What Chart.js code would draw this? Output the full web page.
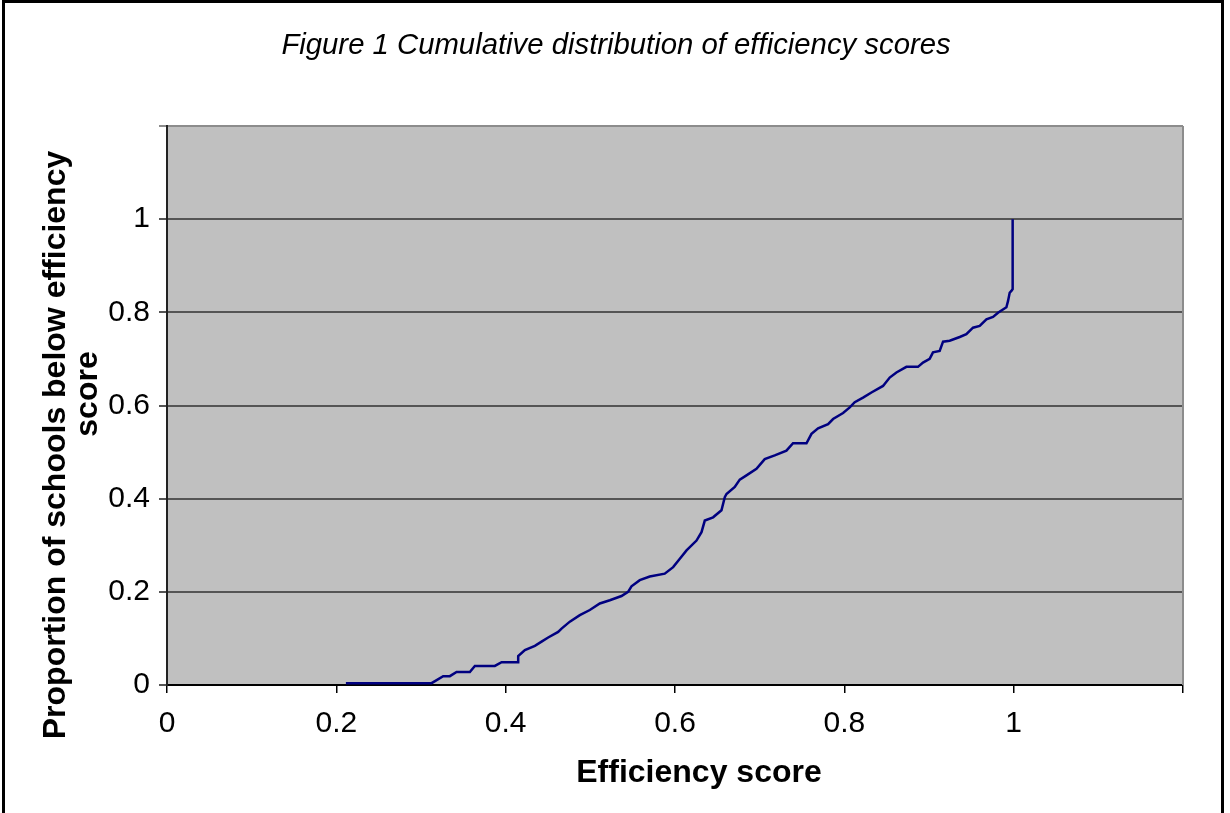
<!DOCTYPE html>
<html>
<head>
<meta charset="utf-8">
<script src="https://cdn.jsdelivr.net/npm/chart.js@4"></script>
<style>
html,body{margin:0;padding:0;background:#fff;}
#wrap{position:absolute;left:0;top:0;width:1230px;height:813px;}
</style>
</head>
<body>
<div id="wrap"><canvas id="c" width="1230" height="813"></canvas></div>
<script>
const chartTitle = "Figure 1 Cumulative distribution of efficiency scores";
const xAxisTitle = "Efficiency score";
const yAxisTitle = ["Proportion of schools below efficiency", "score"];
const xTickValues = [0, 0.2, 0.4, 0.6, 0.8, 1, 1.2];
const xTickLabels = ["0", "0.2", "0.4", "0.6", "0.8", "1", ""];
const yTickLabels = ["0", "0.2", "0.4", "0.6", "0.8", "1", ""];

const efficiencyScores = [
  0.2113, 0.3125, 0.3262, 0.3341, 0.3420, 0.3577, 0.3636, 0.3872, 0.3952, 0.4148,
  0.4148, 0.4227, 0.4345, 0.4424, 0.4502, 0.4620, 0.4660, 0.4758, 0.4876, 0.4994,
  0.5112, 0.5230, 0.5368, 0.5446, 0.5486, 0.5584, 0.5702, 0.5879, 0.5978, 0.6057,
  0.6136, 0.6254, 0.6313, 0.6352, 0.6450, 0.6549, 0.6588, 0.6608, 0.6706, 0.6765,
  0.6844, 0.6962, 0.7060, 0.7178, 0.7316, 0.7394, 0.7553, 0.7612, 0.7690, 0.7808,
  0.7867, 0.7985, 0.8064, 0.8123, 0.8221, 0.8320, 0.8457, 0.8536, 0.8615, 0.8733,
  0.8870, 0.8929, 0.9008, 0.9047, 0.9126, 0.9166, 0.9244, 0.9363, 0.9441, 0.9520,
  0.9599, 0.9678, 0.9756, 0.9815, 0.9914, 0.9933, 0.9953, 0.9973, 0.9988, 0.9988
];
const proportionBelow = [
  0.004, 0.004, 0.019, 0.019, 0.028, 0.028, 0.041, 0.041, 0.049, 0.049,
  0.062, 0.075, 0.084, 0.093, 0.102, 0.114, 0.121, 0.136, 0.150, 0.161,
  0.175, 0.182, 0.191, 0.200, 0.212, 0.225, 0.233, 0.239, 0.253, 0.271,
  0.289, 0.310, 0.328, 0.353, 0.360, 0.375, 0.403, 0.410, 0.425, 0.441,
  0.450, 0.464, 0.485, 0.493, 0.503, 0.519, 0.519, 0.539, 0.551, 0.560,
  0.571, 0.584, 0.596, 0.607, 0.617, 0.628, 0.642, 0.660, 0.671, 0.683,
  0.683, 0.692, 0.700, 0.714, 0.717, 0.737, 0.739, 0.747, 0.753, 0.767,
  0.771, 0.785, 0.790, 0.799, 0.811, 0.824, 0.842, 0.846, 0.850, 1.000
];

const points = efficiencyScores.map((x, i) => ({x: x, y: proportionBelow[i]}));
const FONT = "'Liberation Sans', Arial, sans-serif";

function labelFor(values, labels, v) {
  for (let i = 0; i < values.length; i++) {
    if (Math.abs(values[i] - v) < 1e-6) return labels[i];
  }
  return '';
}

const decorPlugin = {
  id: 'decor',
  beforeDraw(chart) {
    const ctx = chart.ctx, a = chart.chartArea;
    ctx.save();
    ctx.fillStyle = '#fff';
    ctx.fillRect(0, 0, chart.width, chart.height);
    ctx.fillStyle = '#c0c0c0';
    ctx.fillRect(a.left, a.top, a.right - a.left, a.bottom - a.top);
    ctx.restore();
  },
  afterDraw(chart) {
    const ctx = chart.ctx, a = chart.chartArea;
    ctx.save();
    ctx.strokeStyle = '#8c8c8c';
    ctx.lineWidth = 2;
    ctx.beginPath();
    ctx.moveTo(a.right, a.top);
    ctx.lineTo(a.right, a.bottom);
    ctx.stroke();
    ctx.strokeStyle = '#000';
    ctx.lineWidth = 3;
    ctx.beginPath();
    ctx.moveTo(3.5, chart.height + 5);
    ctx.lineTo(3.5, 1.5);
    ctx.lineTo(1222.5, 1.5);
    ctx.lineTo(1222.5, chart.height + 5);
    ctx.stroke();
    ctx.fillStyle = '#000';
    ctx.textAlign = 'center';
    ctx.textBaseline = 'middle';
    ctx.font = 'italic 29.3px ' + FONT;
    ctx.fillText(chartTitle, 616, 46);
    ctx.font = 'bold 32px ' + FONT;
    ctx.fillText(xAxisTitle, (a.left + a.right) / 2 + 24, 773);
    ctx.save();
    ctx.translate(56, 445);
    ctx.rotate(-Math.PI / 2);
    ctx.fillText(yAxisTitle[0], 0, 0);
    ctx.restore();
    ctx.save();
    ctx.translate(88, 394);
    ctx.rotate(-Math.PI / 2);
    ctx.fillText(yAxisTitle[1], 0, 0);
    ctx.restore();
    ctx.restore();
  }
};

new Chart(document.getElementById('c'), {
  type: 'line',
  data: {
    datasets: [{
      data: points,
      borderColor: '#000080',
      borderWidth: 2.5,
      pointRadius: 0,
      tension: 0,
      fill: false
    }]
  },
  options: {
    responsive: false,
    animation: false,
    events: [],
    layout: {padding: {top: 126, right: 47, left: 0, bottom: 0}},
    plugins: {legend: {display: false}, title: {display: false}, tooltip: {enabled: false}},
    scales: {
      x: {
        type: 'linear',
        min: 0, max: 1.2,
        afterFit(s) { s.height = 128; },
        afterBuildTicks(s) { s.ticks = xTickValues.map(v => ({value: v})); },
        ticks: {
          color: '#000',
          font: {family: FONT, size: 30},
          padding: 13,
          maxRotation: 0,
          autoSkip: false,
          callback: v => labelFor(xTickValues, xTickLabels, v)
        },
        grid: {drawOnChartArea: false, drawTicks: true, tickLength: 8, color: '#000', lineWidth: 1.5},
        border: {display: true, color: '#000', width: 2}
      },
      y: {
        type: 'linear',
        min: 0, max: 1.2,
        afterFit(s) { s.width = 167; },
        afterBuildTicks(s) { s.ticks = xTickValues.map(v => ({value: v})); },
        ticks: {
          color: '#000',
          font: {family: FONT, size: 30},
          padding: 9,
          autoSkip: false,
          callback: v => labelFor(xTickValues, yTickLabels, v)
        },
        grid: {
          drawOnChartArea: true,
          drawTicks: true,
          tickLength: 8,
          color: c => (c.tick && c.tick.value > 1.1) ? '#8c8c8c' : '#555555',
          lineWidth: 2
        },
        border: {display: true, color: '#222', width: 2}
      }
    }
  },
  plugins: [decorPlugin]
});
</script>
</body>
</html>
